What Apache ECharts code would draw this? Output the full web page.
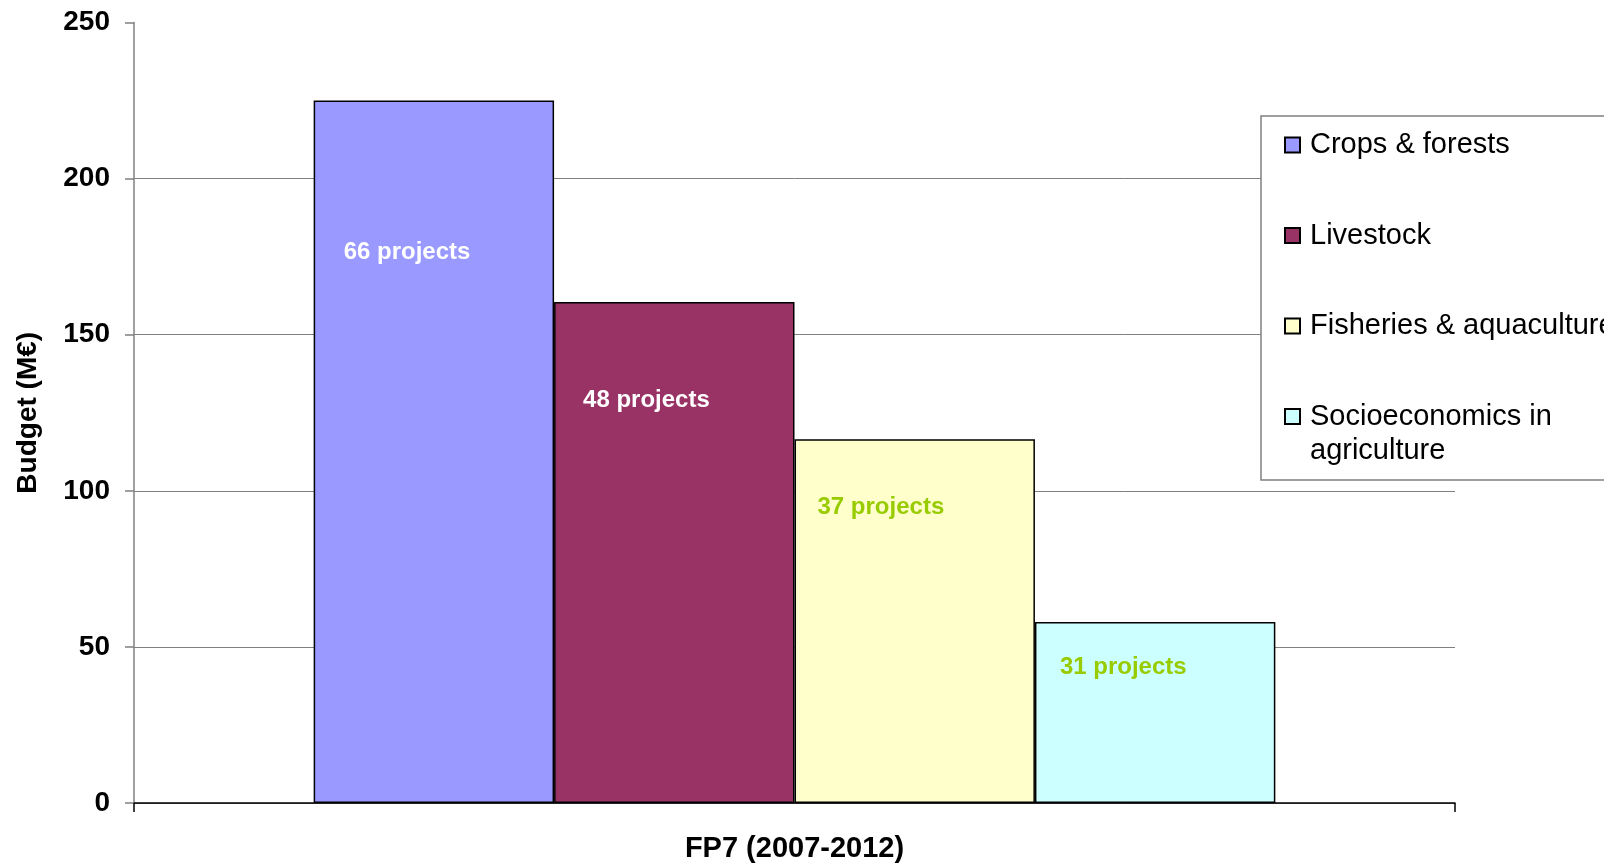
<!DOCTYPE html>
<html>
<head>
<meta charset="utf-8">
<script src="https://cdn.jsdelivr.net/npm/echarts@6/dist/echarts.min.js"></script>
<style>
html,body{margin:0;padding:0;background:#fff;}
#chart{width:1604px;height:865px;}
</style>
</head>
<body>
<div id="chart"></div>
<script>
// ---- data ----
const categories = ['FP7 (2007-2012)'];
const seriesNames = ['Crops & forests', 'Livestock', 'Fisheries & aquaculture', 'Socioeconomics in agriculture'];
const budgets = [225, 160.5, 116.5, 58];           // M€
const projectCounts = [66, 48, 37, 31];
const yMin = 0, yMax = 250, yInterval = 50;

// ---- styles ----
const colors = ['#9999FF', '#993366', '#FFFFCC', '#CCFFFF'];
const labelColors = ['#FFFFFF', '#FFFFFF', '#99CC00', '#99CC00'];
const labelPos = [[30, 152], [29, 98.5], [23, 68], [25, 45.5]];
const FONT = '"Liberation Sans", Arial, sans-serif';
const LH = 34;

const series = seriesNames.map((name, i) => ({
  name: name,
  type: 'bar',
  barGap: '0%',
  barCategoryGap: '27.2%',
  data: [budgets[i]],
  itemStyle: { color: colors[i], borderColor: '#000', borderWidth: 1.5 },
  label: {
    show: true,
    position: labelPos[i],
    align: 'left',
    verticalAlign: 'middle',
    formatter: () => projectCounts[i] + ' projects',
    color: labelColors[i],
    fontFamily: FONT,
    fontWeight: 'bold',
    fontSize: 24
  },
  emphasis: { disabled: true }
}));

const legendData = seriesNames.map((name, i) => ({
  name: name,
  textStyle: { padding: i < 3 ? [LH, 0, LH, 5] : [0, 0, 0, 5] }
}));

const chart = echarts.init(document.getElementById('chart'), null, { renderer: 'canvas' });
chart.setOption({
  animation: false,
  backgroundColor: '#fff',
  grid: { left: 134, right: 149, top: 22.5, bottom: 62, containLabel: false },
  xAxis: {
    type: 'category',
    data: categories,
    axisLine: { lineStyle: { color: '#000', width: 1.5 } },
    axisTick: { show: true, length: 9, lineStyle: { color: '#000', width: 1.5 } },
    axisLabel: { margin: 31, color: '#000', fontFamily: FONT, fontWeight: 'bold', fontSize: 29 },
    splitLine: { show: false }
  },
  yAxis: {
    type: 'value',
    min: yMin, max: yMax, interval: yInterval,
    name: 'Budget (M€)',
    nameLocation: 'middle',
    nameGap: 92,
    nameTextStyle: { color: '#000', fontFamily: FONT, fontWeight: 'bold', fontSize: 28 },
    axisLine: { show: true, lineStyle: { color: '#808080', width: 1.5 } },
    axisTick: { show: true, length: 9, lineStyle: { color: '#808080', width: 1.5 } },
    axisLabel: { margin: 24, color: '#000', fontFamily: FONT, fontWeight: 'bold', fontSize: 28 },
    splitLine: { show: true, showMaxLine: false, lineStyle: { color: '#808080', width: 1 } }
  },
  legend: {
    orient: 'vertical',
    left: 1284,
    top: 94,
    padding: 0,
    itemGap: 90.5 - 3 * LH,
    itemWidth: 15,
    itemHeight: 15,
    icon: 'rect',
    selectedMode: false,
    formatter: (name) => name === 'Socioeconomics in agriculture' ? '\nSocioeconomics in\nagriculture' : name,
    textStyle: { color: '#000', fontFamily: FONT, fontSize: 29, lineHeight: LH },
    data: legendData
  },
  graphic: [{
    type: 'rect',
    z: 1,
    silent: true,
    shape: { x: 1261, y: 116, width: 600, height: 364 },
    style: { fill: '#fff', stroke: '#808080', lineWidth: 1.5 }
  }],
  series: series
});
</script>
</body>
</html>
